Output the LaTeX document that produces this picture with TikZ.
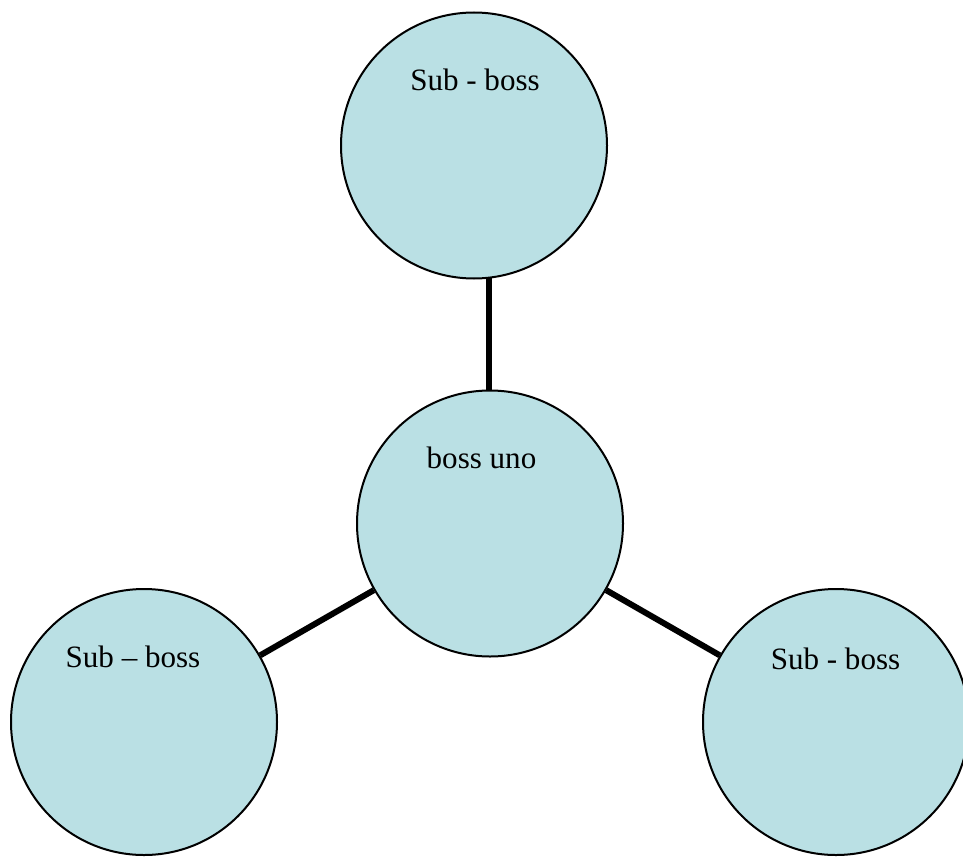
\documentclass[tikz,border=0pt]{standalone}
\usepackage{fontspec}
\setmainfont{Liberation Serif}
\definecolor{bubble}{HTML}{BAE0E4}
\tikzset{
  bubble/.style={circle, draw=black, line width=1.5pt, fill=bubble, minimum size=199.5pt, inner sep=0pt},
  lbl/.style={anchor=base, inner sep=0pt, font=\fontsize{23.3pt}{28pt}\selectfont},
  link/.style={line width=4.5pt, draw=black}
}
\begin{document}
\begin{tikzpicture}[x=0.75pt,y=-0.75pt]
\useasboundingbox (0,0) rectangle (963,856);
\coordinate (cTopLink) at (489,390);
\coordinate (tTopLink) at (489,278);
\node[bubble] (top) at (474,145.5) {};
\node[bubble] (ctr) at (490,523.5) {};
\node[bubble] (bl) at (144,722) {};
\node[bubble] (br) at (836,722) {};
\draw[link] (tTopLink) -- (cTopLink);
\draw[link] (ctr) -- (bl);
\draw[link] (ctr) -- (br);
\node[lbl] (ttop) at (475,90) {Sub - boss};
\node[lbl] (tctr) at (481.5,468) {boss uno};
\node[lbl] (tbl) at (133,667) {Sub – boss};
\node[lbl] (tbr) at (835.5,669) {Sub - boss};
\end{tikzpicture}
\end{document}
